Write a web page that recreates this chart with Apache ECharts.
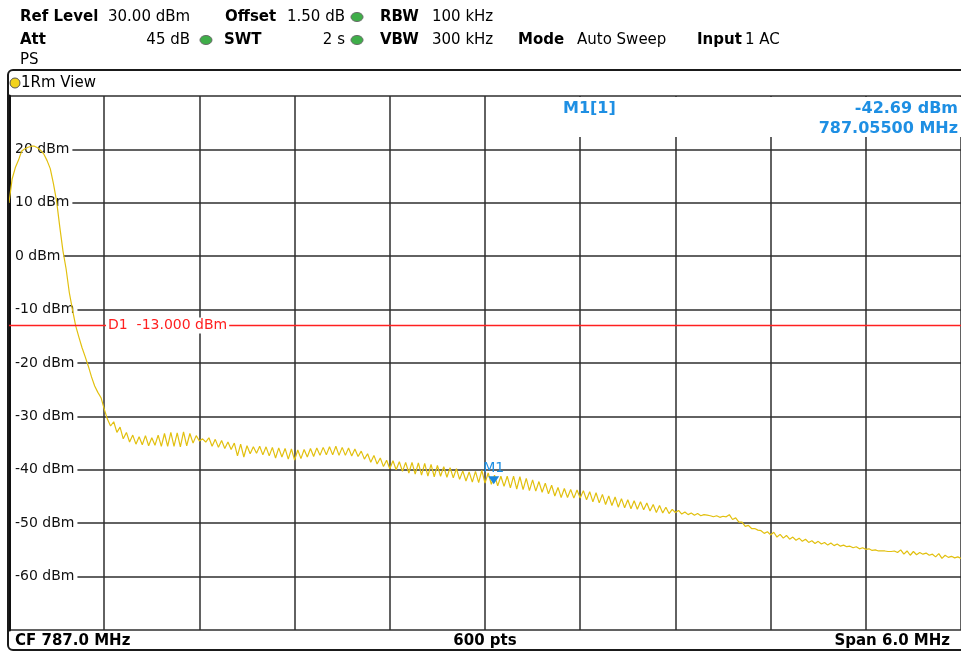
<!DOCTYPE html>
<html>
<head>
<meta charset="utf-8">
<script src="https://cdn.jsdelivr.net/npm/echarts@6/dist/echarts.min.js"></script>
<style>
  html, body { margin: 0; padding: 0; background: #fff; }
  #echarts { width: 961px; height: 652px; }
</style>
</head>
<body>
<div id="echarts"></div>
<script>
// sweep settings
const centerMHz = 787.0;
const spanMHz = 6.0;
const sweepPts = 600;
const stepKHz = 20;

const levels = [
  10.0, 14.5, 16.6, 18.0, 19.7, 20.1, 20.4, 20.6, 20.6, 20.3,
  19.8, 19.1, 17.9, 16.4, 13.6, 10.3, 5.5, 1.0, -2.4, -6.8,
  -10.0, -13.0, -15.1, -17.1, -18.8, -20.6, -22.6, -24.3, -25.5, -26.5,
  -28.6, -30.5, -31.8, -31.0, -33.0, -32.0, -34.2, -33.0, -34.8, -33.5,
  -35.2, -33.8, -35.3, -33.6, -35.5, -34.0, -35.4, -33.5, -35.6, -33.2,
  -35.6, -33.0, -35.6, -33.1, -35.7, -32.9, -35.5, -33.2, -35.0, -33.6,
  -34.6, -34.2, -34.8, -34.0, -35.6, -34.3, -35.8, -34.5, -36.0, -34.8,
  -36.2, -35.0, -37.4, -35.2, -37.6, -35.5, -37.0, -35.7, -36.9, -35.6,
  -37.2, -35.7, -37.4, -35.8, -37.8, -35.9, -37.6, -36.0, -38.0, -36.1,
  -38.2, -36.3, -37.9, -36.2, -37.6, -36.0, -37.5, -35.9, -37.3, -35.8,
  -37.2, -35.7, -37.2, -35.6, -37.3, -35.8, -37.3, -35.9, -37.4, -36.1,
  -37.5, -36.5, -38.0, -37.0, -38.6, -37.3, -38.9, -37.8, -39.4, -38.2,
  -39.8, -38.3, -40.0, -38.5, -40.3, -38.6, -40.6, -38.6, -40.8, -38.7,
  -41.0, -38.8, -41.2, -39.0, -41.3, -39.2, -41.2, -39.4, -41.4, -39.6,
  -41.5, -39.8, -41.8, -40.2, -42.1, -40.4, -42.3, -40.3, -42.4, -40.1,
  -42.5, -40.6, -42.7, -41.0, -43.0, -41.2, -43.1, -41.2, -43.4, -41.2,
  -43.6, -41.3, -43.7, -41.6, -43.9, -41.9, -44.0, -42.2, -44.2, -42.5,
  -44.5, -42.9, -44.9, -43.3, -45.2, -43.5, -45.2, -43.7, -45.3, -43.8,
  -45.3, -43.9, -45.6, -44.1, -46.0, -44.3, -46.2, -44.6, -46.5, -44.9,
  -46.7, -45.1, -47.0, -45.4, -47.1, -45.6, -47.3, -45.8, -47.4, -46.0,
  -47.5, -46.2, -47.7, -46.5, -48.0, -46.7, -48.1, -47.0, -48.2, -47.4,
  -48.0, -47.6, -48.3, -47.9, -48.4, -48.1, -48.5, -48.2, -48.6, -48.4,
  -48.5, -48.6, -48.8, -48.6, -48.9, -48.7, -48.8, -48.4, -49.3, -49.0,
  -49.8, -49.8, -50.6, -50.4, -51.0, -51.0, -51.3, -51.4, -51.9, -51.6,
  -52.2, -51.7, -52.6, -52.1, -52.8, -52.3, -53.0, -52.6, -53.2, -52.8,
  -53.4, -53.0, -53.6, -53.3, -53.8, -53.4, -53.9, -53.6, -54.1, -53.7,
  -54.2, -53.9, -54.3, -54.1, -54.4, -54.3, -54.6, -54.4, -54.8, -54.6,
  -54.9, -54.8, -55.1, -55.0, -55.2, -55.2, -55.2, -55.3, -55.3, -55.2,
  -55.5, -55.0, -55.8, -55.2, -56.0, -55.3, -55.9, -55.5, -55.8, -55.6,
  -56.0, -55.8, -56.3, -55.7, -56.6, -56.0, -56.4, -56.2, -56.5, -56.3,
  -56.6
];

// display line and marker
const d1Level = -13.0;
const markerName = "M1";
const markerMHz = 787.055;
const markerLevel = -42.69;

// y scale (dBm)
const yMin = -70;
const yMax = 30;
const yStep = 10;

// header readouts
const headerRow1 = [
  ["Ref Level", true, 20], ["30.00 dBm", false, 108],
  ["Offset", true, 225], ["1.50 dB", false, 287],
  ["RBW", true, 380], ["100 kHz", false, 432]
];
const headerRow2 = [
  ["Att", true, 20], ["SWT", true, 224],
  ["VBW", true, 380], ["300 kHz", false, 432],
  ["Mode", true, 518], ["Auto Sweep", false, 577],
  ["Input", true, 697], ["1 AC", false, 745]
];

const FONT = '"DejaVu Sans", Verdana, sans-serif';
const BLUE = "#1e8fe3";
const halfSpanKHz = spanMHz * 500;

const sweep = levels.map((v, i) => [-halfSpanKHz + i * stepKHz, v]);

function txt(x, y, text, bold, size, color, align) {
  return {
    type: "text", x: x, y: y, z: 10,
    style: {
      text: text,
      font: (bold ? "bold " : "") + size + "px " + FONT,
      fill: color || "#000",
      align: align || "left",
      verticalAlign: "middle"
    }
  };
}

function dot(cx, cy, color) {
  return {
    type: "ellipse", z: 10,
    shape: { cx: cx, cy: cy, rx: 6, ry: 4.5 },
    style: { fill: color, stroke: "#6b6b6b", lineWidth: 1 }
  };
}

let graphics = [];
for (let h of headerRow1) graphics.push(txt(h[2], 17, h[0], h[1], 15));
for (let h of headerRow2) graphics.push(txt(h[2], 40, h[0], h[1], 15));
graphics.push(txt(190, 40, "45 dB", false, 15, "#000", "right"));
graphics.push(txt(345, 40, "2 s", false, 15, "#000", "right"));
graphics.push(txt(20, 60, "PS", false, 15));
graphics.push(dot(357, 17, "#3fae49"));
graphics.push(dot(206, 40, "#3fae49"));
graphics.push(dot(357, 40, "#3fae49"));

// window frame + title
graphics.push({
  type: "rect", z: 20,
  shape: { x: 8, y: 70, width: 960, height: 580, r: 5 },
  style: { fill: null, stroke: "#1a1a1a", lineWidth: 2 }
});
graphics.push({
  type: "circle", z: 10,
  shape: { cx: 15, cy: 83, r: 5 },
  style: { fill: "#f2d21b", stroke: "#555", lineWidth: 1 }
});
graphics.push(txt(21, 83, "1Rm View", false, 15));

// marker readout box
graphics.push({
  type: "rect", z: 1,
  shape: { x: 545, y: 97, width: 416, height: 40 },
  style: { fill: "#fff" }
});
graphics.push(txt(563, 109, markerName + "[1]", true, 16, BLUE));
graphics.push(txt(958, 109, markerLevel.toFixed(2) + " dBm", true, 16, BLUE, "right"));
graphics.push(txt(958, 129, markerMHz.toFixed(5) + " MHz", true, 16, BLUE, "right"));

// footer
graphics.push(txt(15, 641, "CF " + centerMHz.toFixed(1) + " MHz", true, 15));
graphics.push(txt(485, 641, sweepPts + " pts", true, 15, "#000", "center"));
graphics.push(txt(950, 641, "Span " + spanMHz.toFixed(1) + " MHz", true, 15, "#000", "right"));

let option = {
  animation: false,
  backgroundColor: "#fff",
  grid: { left: 9, right: 0, top: 96, bottom: 22 },
  xAxis: {
    type: "value",
    min: -halfSpanKHz,
    max: halfSpanKHz,
    interval: spanMHz * 100,
    axisLine: { show: false },
    axisTick: { show: false },
    axisLabel: { show: false },
    splitLine: { show: true, lineStyle: { color: "#2e2e2e", width: 1.5 } }
  },
  yAxis: [
    {
      type: "value", position: "left", z: 0,
      min: yMin, max: yMax, interval: yStep,
      axisLine: { show: false },
      axisTick: { show: false },
      axisLabel: { show: false },
      splitLine: { show: true, lineStyle: { color: "#2e2e2e", width: 1.5 } }
    },
    {
      type: "value", position: "left", z: 3,
      min: yMin, max: yMax, interval: yStep,
      axisLine: { show: true, onZero: false, lineStyle: { color: "#111", width: 3 } },
      axisTick: { show: false },
      splitLine: { show: false },
      axisLabel: {
        show: true,
        inside: true,
        margin: 2,
        showMinLabel: false,
        showMaxLabel: false,
        formatter: v => v + " dBm",
        color: "#111",
        fontFamily: FONT,
        fontSize: 14,
        backgroundColor: "#fff",
        padding: [2, 3, 2, 4]
      }
    }
  ],
  graphic: graphics,
  series: [
    {
      name: "1Rm View",
      type: "line",
      yAxisIndex: 0,
      z: 4,
      showSymbol: false,
      data: sweep,
      lineStyle: { color: "#e2c00f", width: 1.2 },
      markLine: {
        silent: true,
        symbol: "none",
        lineStyle: { color: "#ff2020", width: 1.3, type: "solid", opacity: 1 },
        label: {
          show: true,
          position: "insideStart",
          distance: [97, 0],
          formatter: "D1  " + d1Level.toFixed(3) + " dBm",
          color: "#ff2020",
          fontFamily: FONT,
          fontSize: 14,
          backgroundColor: "#fff",
          padding: [1, 2, 1, 2]
        },
        data: [{ yAxis: d1Level }]
      },
      markPoint: {
        silent: true,
        symbol: "triangle",
        symbolRotate: 180,
        symbolSize: [11, 8],
        symbolOffset: [0, -4],
        itemStyle: { color: "#1a86dc" },
        label: {
          show: true,
          position: "top",
          distance: 1,
          formatter: markerName,
          color: BLUE,
          fontFamily: FONT,
          fontSize: 14
        },
        data: [{ coord: [(markerMHz - centerMHz) * 1000, markerLevel] }]
      }
    }
  ]
};

const chart = echarts.init(document.getElementById("echarts"));
chart.setOption(option);
</script>
</body>
</html>
